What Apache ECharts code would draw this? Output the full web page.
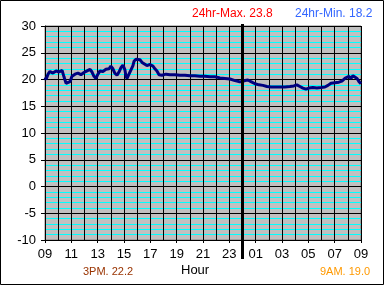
<!DOCTYPE html>
<html><head><meta charset="utf-8">
<script src="https://cdn.jsdelivr.net/npm/echarts@6/dist/echarts.min.js"></script>
<style>html,body{margin:0;padding:0;background:#fff}#c{width:385px;height:286px}</style>
</head><body><div id="c"></div>
<script>
// hours elapsed since 09:00
var hours = [0,0.08,0.23,0.38,0.6,0.84,1.06,1.3,1.44,1.6,1.75,1.9,2.05,2.28,2.5,2.73,2.96,3.19,3.42,3.57,3.72,3.87,4.02,4.18,4.4,4.63,4.86,5.0,5.16,5.3,5.47,5.62,5.77,5.92,6.07,6.15,6.23,6.38,6.53,6.68,6.76,6.91,7.06,7.21,7.37,7.52,7.74,7.97,8.2,8.35,8.5,8.66,8.88,9.19,9.49,9.87,10.25,10.63,11.0,11.39,11.77,12.15,12.53,12.9,13.29,13.67,14.05,14.43,14.73,14.96,15.19,15.41,15.64,15.95,16.25,16.55,16.86,17.16,17.46,17.84,18.22,18.6,18.9,19.13,19.36,19.59,19.82,20.05,20.35,20.65,20.96,21.26,21.49,21.72,22.02,22.32,22.55,22.78,22.93,23.08,23.24,23.39,23.54,23.7,23.85,24.0];
var temps = [20.4,20.0,21.0,21.5,21.2,21.6,21.4,21.7,20.5,19.3,19.0,19.6,20.6,21.0,21.2,20.9,21.3,21.6,21.9,21.4,20.6,20.2,21.0,21.6,21.5,21.9,22.0,22.5,22.0,21.2,20.8,21.4,22.2,22.7,21.8,20.6,20.2,21.0,21.8,22.6,23.4,23.8,23.6,23.7,23.2,22.9,22.6,22.8,22.5,22.0,21.6,20.9,20.8,21.0,20.9,20.9,20.8,20.8,20.7,20.7,20.6,20.6,20.5,20.5,20.3,20.2,20.1,19.8,19.6,19.6,19.8,19.9,19.6,19.2,19.0,18.9,18.7,18.6,18.6,18.6,18.6,18.7,18.8,19.0,18.7,18.4,18.2,18.4,18.5,18.4,18.5,18.6,18.9,19.3,19.4,19.5,19.7,20.2,20.0,20.6,20.2,20.7,20.9,20.2,19.6,19.2];
var startHour = 9;
var midnightOffset = 15;
var yTicks = {min: -10, max: 30, step: 5};
var topNotes = [{text: '24hr-Max. 23.8', color: '#ff0000'}, {text: '24hr-Min. 18.2', color: '#3366ff'}];
var bottomNotes = [{text: '3PM. 22.2', color: '#993300'}, {text: 'Hour', color: '#000000'}, {text: '9AM. 19.0', color: '#ff9900'}];

var chart = echarts.init(document.getElementById('c'), null, {renderer: 'canvas'});
var font = '"Liberation Sans", Arial, sans-serif';
var pts = hours.map(function (h, i) { return [h, temps[i]]; });
chart.setOption({
  animation: false,
  backgroundColor: '#ffffff',
  grid: {left: 45, top: 26, right: 24, bottom: 46, show: true, backgroundColor: '#c0c0c0', borderColor: '#808080', borderWidth: 1},
  xAxis: {
    type: 'value', min: 0, max: 24, interval: 2,
    axisLine: {show: true, onZero: false, lineStyle: {color: '#000', width: 1}},
    axisTick: {show: true, length: 3, lineStyle: {color: '#000'}},
    axisLabel: {margin: 8, color: '#000', fontSize: 13, fontFamily: font,
      formatter: function (v) { var h = (startHour + v) % 24; return (h < 10 ? '0' : '') + h; }},
    splitLine: {show: true, lineStyle: {color: '#000', width: 1}},
    minorTick: {show: false, splitNumber: 2},
    minorSplitLine: {show: true, lineStyle: {color: '#000', width: 1}}
  },
  yAxis: {
    type: 'value', min: yTicks.min, max: yTicks.max, interval: yTicks.step,
    axisLine: {show: true, lineStyle: {color: '#000', width: 1}},
    axisTick: {show: true, length: 4, lineStyle: {color: '#000'}},
    axisLabel: {margin: 9, color: '#000', fontSize: 13, fontFamily: font},
    splitLine: {show: true, lineStyle: {color: '#000', width: 1}},
    minorTick: {show: false, splitNumber: 5},
    minorSplitLine: {show: true, lineStyle: {color: '#00ffff', width: 1}}
  },
  series: [{
    type: 'line', data: pts, showSymbol: false, symbol: 'none',
    lineStyle: {color: '#000080', width: 3}, z: 5
  }]
});
var xm = chart.convertToPixel({xAxisIndex: 0}, midnightOffset);
var yTop = chart.convertToPixel({yAxisIndex: 0}, yTicks.max);
var yBot = chart.convertToPixel({yAxisIndex: 0}, yTicks.min);
chart.setOption({
  graphic: [
    {type: 'rect', shape: {x: 0.5, y: 0.5, width: 383, height: 284}, style: {fill: 'none', stroke: '#000', lineWidth: 1}, silent: true},
    {type: 'line', shape: {x1: xm, y1: yTop - 2, x2: xm, y2: yBot + 19}, style: {stroke: '#000', lineWidth: 3}, z: 10},
    {type: 'text', left: 192, top: 8, style: {text: topNotes[0].text, fill: topNotes[0].color, font: '12px ' + font}},
    {type: 'text', left: 295, top: 8, style: {text: topNotes[1].text, fill: topNotes[1].color, font: '12px ' + font}},
    {type: 'text', left: 83, top: 266, style: {text: bottomNotes[0].text, fill: bottomNotes[0].color, font: '11px ' + font}},
    {type: 'text', left: 181, top: 264, style: {text: bottomNotes[1].text, fill: bottomNotes[1].color, font: '13px ' + font}},
    {type: 'text', left: 320, top: 266, style: {text: bottomNotes[2].text, fill: bottomNotes[2].color, font: '11px ' + font}}
  ]
});
</script></body></html>
